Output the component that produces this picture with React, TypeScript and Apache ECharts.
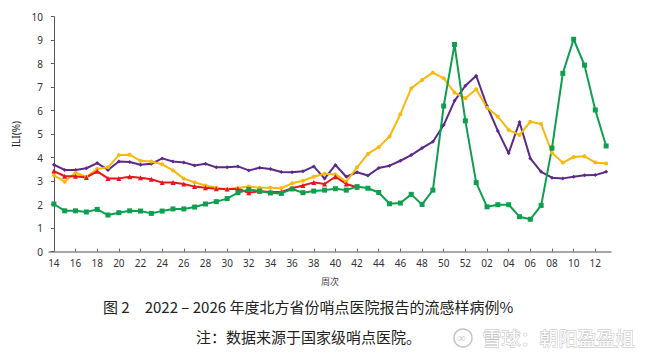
import React, { useEffect, useRef } from "react";
import * as echarts from "echarts";

const weeks = [
  "14", "15", "16", "17", "18", "19", "20", "21", "22", "23", "24", "25", "26",
  "27", "28", "29", "30", "31", "32", "33", "34", "35", "36", "37", "38", "39",
  "40", "41", "42", "43", "44", "45", "46", "47", "48", "49", "50", "51", "52",
  "01", "02", "03", "04", "05", "06", "07", "08", "09", "10", "11", "12", "13",
];

const season2223 = [
  2.03, 1.74, 1.74, 1.69, 1.8, 1.56, 1.66, 1.74, 1.73, 1.63, 1.73, 1.82, 1.82,
  1.9, 2.03, 2.13, 2.26, 2.51, 2.65, 2.58, 2.5, 2.48, 2.67, 2.51, 2.58, 2.62,
  2.68, 2.62, 2.77, 2.7, 2.52, 2.04, 2.07, 2.44, 2.01, 2.62, 6.2, 8.82, 5.57,
  2.94, 1.91, 2.0, 2.0, 1.49, 1.38, 1.97, 4.41, 7.59, 9.04, 7.94, 6.03, 4.5,
];

const season2324 = [
  3.25, 2.98, 3.36, 3.19, 3.52, 3.59, 4.11, 4.13, 3.87, 3.84, 3.72, 3.46, 3.11,
  2.95, 2.82, 2.72, 2.65, 2.71, 2.77, 2.72, 2.72, 2.7, 2.91, 3.02, 3.19, 3.32,
  3.29, 2.98, 3.59, 4.16, 4.45, 4.9, 5.85, 6.95, 7.31, 7.62, 7.38, 6.77, 6.53,
  6.91, 6.13, 5.75, 5.18, 4.97, 5.53, 5.43, 4.21, 3.79, 4.03, 4.06, 3.8, 3.75,
];

const season2425 = [
  3.7, 3.48, 3.48, 3.55, 3.77, 3.48, 3.84, 3.82, 3.7, 3.74, 3.97, 3.84, 3.8,
  3.67, 3.74, 3.59, 3.59, 3.63, 3.46, 3.57, 3.52, 3.39, 3.38, 3.42, 3.63, 3.11,
  3.69, 3.19, 3.38, 3.24, 3.56, 3.66, 3.87, 4.11, 4.41, 4.68, 5.39, 6.42, 7.06,
  7.49, 6.2, 5.14, 4.19, 5.52, 3.97, 3.4, 3.15, 3.12, 3.19, 3.25, 3.26, 3.4,
];

const season2526 = [
  3.43, 3.21, 3.21, 3.16, 3.42, 3.12, 3.12, 3.19, 3.15, 3.08, 2.94, 2.94, 2.88,
  2.77, 2.72, 2.68, 2.67, 2.68, 2.51, 2.57, 2.54, 2.54, 2.7, 2.82, 2.95, 2.88,
  3.19, 2.88, 2.74,
];

const labelWeeks = weeks.filter((_, i) => i % 2 === 0);

const toPairs = (arr: number[]) => arr.map((v, i) => [i, v]);

export default function App() {
  const ref = useRef<HTMLDivElement>(null);
  useEffect(() => {
    if (!ref.current) return;
    const chart = echarts.init(ref.current, undefined, { renderer: "svg" });
    const font = "Noto Sans";
    const cjk = "'Noto Sans CJK SC', sans-serif";
    const labelIdx = labelWeeks.map((w) => weeks.indexOf(w));
    const mk = (name: string, data: number[], color: string, symbol: string, size: number) => ({
      name,
      type: "line",
      data: toPairs(data),
      symbol,
      symbolSize: size,
      showSymbol: true,
      lineStyle: { color, width: 2 },
      itemStyle: { color },
      z: 3,
    });
    chart.setOption({
      animation: false,
      backgroundColor: "#ffffff",
      grid: { left: 49, right: 50, top: 16.7, bottom: 107.3, containLabel: false },
      xAxis: {
        type: "value",
        min: -0.45,
        max: weeks.length - 0.55,
        name: "周次",
        nameLocation: "middle",
        nameGap: 25,
        nameTextStyle: { fontFamily: cjk, fontSize: 9, color: "#444" },
        splitLine: { show: false },
        axisLine: { show: true, lineStyle: { color: "#8c8c8c", width: 1.5 } },
        axisTick: {
          show: true,
          inside: true,
          length: 3,
          customValues: labelIdx,
          lineStyle: { color: "#666" },
        },
        axisLabel: {
          customValues: labelIdx,
          formatter: (v: number) => weeks[Math.round(v)] ?? "",
          fontFamily: font,
          fontSize: 10,
          color: "#333",
          margin: 6,
        },
      },
      yAxis: {
        type: "value",
        min: 0,
        max: 10,
        interval: 1,
        name: "ILI(%)",
        nameLocation: "middle",
        nameGap: 27,
        nameRotate: 90,
        nameTextStyle: { fontFamily: font, fontSize: 10, color: "#222" },
        splitLine: { show: false },
        axisLine: { show: true, lineStyle: { color: "#555", width: 1 } },
        axisTick: { show: true, length: 3, lineStyle: { color: "#555" } },
        axisLabel: { fontFamily: font, fontSize: 10, color: "#333", margin: 6 },
      },
      series: [
        mk("2024-2025", season2425, "#5c2a8a", "diamond", 4),
        mk("2023-2024", season2324, "#f7b90c", "circle", 4),
        mk("2025-2026", season2526, "#e5161c", "triangle", 5),
        mk("2022-2023", season2223, "#0e9f4e", "rect", 5),
      ],
      graphic: [
        {
          type: "text",
          left: 103,
          top: 299,
          style: {
            text: "图 2　2022 – 2026 年度北方省份哨点医院报告的流感样病例%",
            fontFamily: cjk,
            fontSize: 15,
            fill: "#222",
          },
        },
        {
          type: "text",
          left: 196,
          top: 329,
          style: {
            text: "注：数据来源于国家级哨点医院。",
            fontFamily: cjk,
            fontSize: 15,
            fill: "#222",
          },
        },
        {
          type: "circle",
          shape: { cx: 463, cy: 338, r: 9 },
          style: { fill: "none", stroke: "#c4c4c4", lineWidth: 1.5 },
        },
        {
          type: "text",
          left: 457,
          top: 331,
          style: { text: "∞", fontFamily: font, fontSize: 12, fill: "#c4c4c4" },
        },
        {
          type: "text",
          left: 482,
          top: 327,
          style: {
            text: "雪球：朝阳盈盈姐",
            fontFamily: cjk,
            fontSize: 19,
            fill: "#ffffff",
            stroke: "#bdbdbd",
            lineWidth: 1,
          },
        },
      ],
    });
    return () => chart.dispose();
  }, []);
  return <div ref={ref} style={{ width: 661, height: 359, margin: -8 }} />;
}
